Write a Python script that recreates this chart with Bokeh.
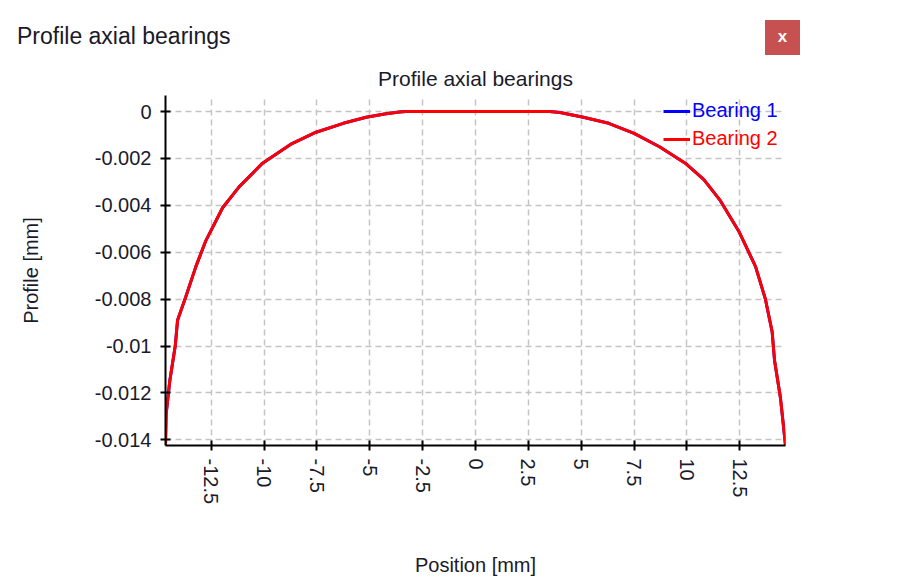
from bokeh.plotting import figure
from bokeh.models import FixedTicker, Legend, LegendItem, Div
from bokeh.layouts import column
from bokeh.embed import file_html
from bokeh.resources import INLINE

# ---------------- data ----------------
window_title = "Profile axial bearings"
chart_title = "Profile axial bearings"
x_label = "Position [mm]"
y_label = "Profile [mm]"
series_names = ["Bearing 1", "Bearing 2"]
series_colors = ["#0000ff", "#ff0000"]

position_mm = [
    -14.66, -14.63, -14.46, -14.2, -14.09, -13.7, -13.22, -12.75, -11.96, -11.17,
    -10.07, -8.75, -7.54, -6.25, -5.17, -4.3, -3.6, -3.3,
    3.5, 4.0, 5.1, 6.3, 7.5, 8.7, 9.92, 10.8, 11.58, 12.45, 13.24, 13.71,
    14.03, 14.14, 14.42, 14.55, 14.66,
]
profile_bearing_1 = [
    -0.01424, -0.0129, -0.0115, -0.0100, -0.0089, -0.0079, -0.0066, -0.0055, -0.0041, -0.0032,
    -0.0022, -0.0014, -0.00088, -0.0005, -0.00024, -0.0001, -0.00002, 0.0,
    0.0, -0.00004, -0.00024, -0.0005, -0.00093, -0.0015, -0.0022, -0.0029, -0.0038, -0.0051,
    -0.0066, -0.0080, -0.0094, -0.0106, -0.0122, -0.0133, -0.01424,
]
profile_bearing_2 = [
    -0.01424, -0.0129, -0.0115, -0.0100, -0.0089, -0.0079, -0.0066, -0.0055, -0.0041, -0.0032,
    -0.0022, -0.0014, -0.00088, -0.0005, -0.00024, -0.0001, -0.00002, 0.0,
    0.0, -0.00004, -0.00024, -0.0005, -0.00093, -0.0015, -0.0022, -0.0029, -0.0038, -0.0051,
    -0.0066, -0.0080, -0.0094, -0.0106, -0.0122, -0.0133, -0.01424,
]

x_ticks = [-12.5, -10, -7.5, -5, -2.5, 0, 2.5, 5, 7.5, 10, 12.5]
x_tick_labels = ["-12.5", "-10", "-7.5", "-5", "-2.5", "0", "2.5", "5", "7.5", "10", "12.5"]
y_ticks = [0, -0.002, -0.004, -0.006, -0.008, -0.01, -0.012, -0.014]
y_tick_labels = ["0", "-0.002", "-0.004", "-0.006", "-0.008", "-0.01", "-0.012", "-0.014"]

FONT = "Liberation Sans"
TEXT = "#1a1a2a"

# ---------------- header (window bar) ----------------
header = Div(
    text=(
        f'<div style="position:relative;width:885px;height:52px;font-family:\'{FONT}\';">'
        f'<span style="position:absolute;left:17px;top:20px;font-size:23px;color:{TEXT};white-space:nowrap;">{window_title}</span>'
        '<span style="position:absolute;left:765px;top:20px;width:35px;height:35px;background:#c75050;'
        'color:#ffffff;font-size:17px;font-weight:bold;text-align:center;line-height:33px;z-index:5;">x</span>'
        '</div>'
    ),
    width=885, height=52, margin=0,
)

# ---------------- chart ----------------
p = figure(
    frame_width=620, frame_height=350,
    x_range=(-14.66, 14.66), y_range=(-0.01424, 0.000686),
    min_border_left=165, min_border_right=100, min_border_top=43, min_border_bottom=135,
    output_backend="svg", toolbar_location=None, title=chart_title, margin=0,
)
p.title.align = "center"
p.title.text_font = FONT
p.title.text_font_size = "21px"
p.title.text_font_style = "normal"
p.title.text_color = TEXT
p.title.standoff = 11
p.outline_line_color = None
p.background_fill_color = "#ffffff"
p.border_fill_color = "#ffffff"

r1 = p.line(position_mm, profile_bearing_1, line_color=series_colors[0], line_width=3)
r2 = p.line(position_mm, profile_bearing_2, line_color=series_colors[1], line_width=3)

for ax in (p.xaxis[0], p.yaxis[0]):
    ax.axis_line_color = "#000000"
    ax.axis_line_width = 2
    ax.major_tick_line_color = "#000000"
    ax.major_tick_line_width = 2
    ax.major_tick_in = 5
    ax.major_tick_out = 5
    ax.minor_tick_line_color = None
    ax.major_label_text_font = FONT
    ax.major_label_text_font_size = "20px"
    ax.major_label_text_color = TEXT
    ax.axis_label_text_font = FONT
    ax.axis_label_text_font_size = "20px"
    ax.axis_label_text_font_style = "normal"
    ax.axis_label_text_color = TEXT

p.xaxis.ticker = FixedTicker(ticks=x_ticks)
p.xaxis.major_label_overrides = dict(zip(x_ticks, x_tick_labels))
p.xaxis.major_label_orientation = "vertical"
p.xaxis.major_label_standoff = 8
p.xaxis.axis_label = x_label
p.xaxis.axis_label_standoff = 47

p.yaxis.ticker = FixedTicker(ticks=y_ticks)
p.yaxis.major_label_overrides = dict(zip(y_ticks, y_tick_labels))
p.yaxis.major_label_standoff = 9
p.yaxis.axis_label = y_label
p.yaxis.axis_label_standoff = 50

for g in (p.xgrid[0], p.ygrid[0]):
    g.grid_line_color = "#c4c4c4"
    g.grid_line_width = 1.5
    g.grid_line_dash = "6 4"

for i, (r, loc) in enumerate(((r1, (498, 323)), (r2, (498, 295)))):
    leg = Legend(
        items=[LegendItem(label=series_names[i], renderers=[r])],
        location=loc,
        label_text_font=FONT, label_text_font_size="20px",
        label_text_color=series_colors[i],
        glyph_width=27, glyph_height=20, label_height=20, label_standoff=2,
        padding=0, margin=0, spacing=0,
        background_fill_alpha=0, border_line_alpha=0,
    )
    p.add_layout(leg, "center")

layout = column(header, p, spacing=0)
open("out.html", "w").write(file_html(layout, INLINE))
